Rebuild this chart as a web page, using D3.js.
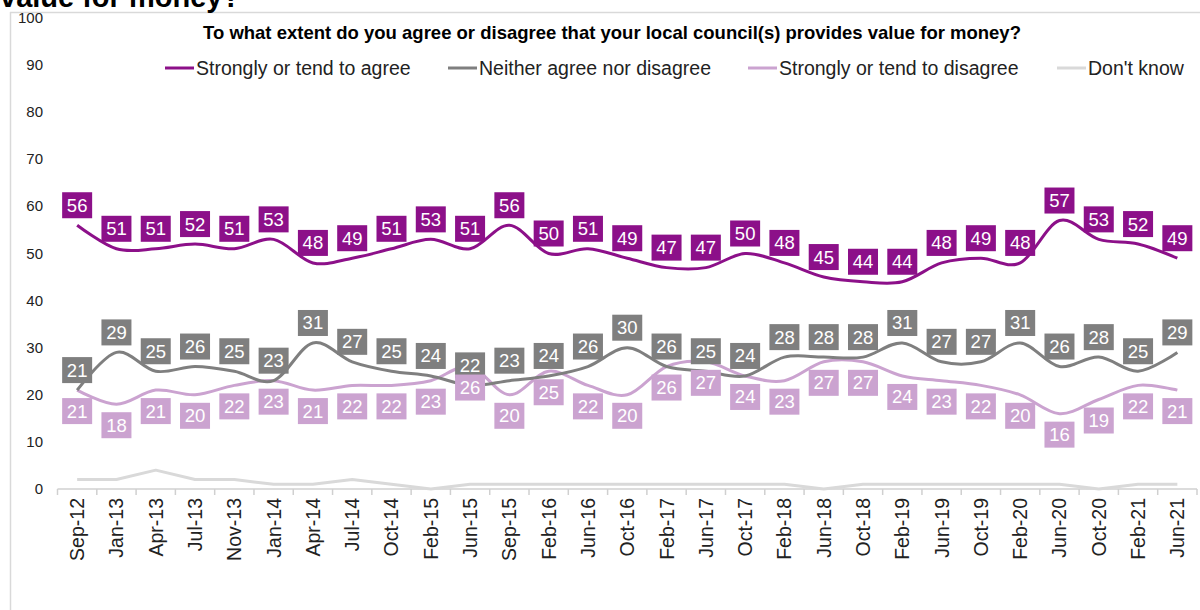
<!DOCTYPE html>
<html>
<head>
<meta charset="utf-8">
<script src="https://cdn.jsdelivr.net/npm/d3@7"></script>
<style>
  body { margin: 0; background: #fff; }
  svg { display: block; font-family: "Liberation Sans", Arial, sans-serif; }
</style>
</head>
<body>
<svg id="chart"></svg>
<script>
const waves = ["Sep-12", "Jan-13", "Apr-13", "Jul-13", "Nov-13", "Jan-14", "Apr-14", "Jul-14",
  "Oct-14", "Feb-15", "Jun-15", "Sep-15", "Feb-16", "Jun-16", "Oct-16", "Feb-17", "Jun-17",
  "Oct-17", "Feb-18", "Jun-18", "Oct-18", "Feb-19", "Jun-19", "Oct-19", "Feb-20", "Jun-20",
  "Oct-20", "Feb-21", "Jun-21"];

const agree = [56, 51, 51, 52, 51, 53, 48, 49, 51, 53, 51, 56, 50, 51, 49, 47, 47, 50, 48, 45,
  44, 44, 48, 49, 48, 57, 53, 52, 49];
const neither = [21, 29, 25, 26, 25, 23, 31, 27, 25, 24, 22, 23, 24, 26, 30, 26, 25, 24, 28, 28,
  28, 31, 27, 27, 31, 26, 28, 25, 29];
const disagree = [21, 18, 21, 20, 22, 23, 21, 22, 22, 23, 26, 20, 25, 22, 20, 26, 27, 24, 23, 27,
  27, 24, 23, 22, 20, 16, 19, 22, 21];
const dontKnow = [2, 2, 4, 2, 2, 1, 1, 2, 1, 0, 1, 1, 1, 1, 1, 1, 1, 1, 1, 0, 1, 1, 1, 1, 1, 1,
  0, 1, 1];

const yTicks = [0, 10, 20, 30, 40, 50, 60, 70, 80, 90, 100];

const series = [
  { name: "Strongly or tend to agree", values: agree, color: "#8c1089", smooth: true, label: "above" },
  { name: "Neither agree nor disagree", values: neither, color: "#7f7f7f", smooth: true, label: "above" },
  { name: "Strongly or tend to disagree", values: disagree, color: "#cba3d0", smooth: true, label: "below" },
  { name: "Don't know", values: dontKnow, color: "#d9d9d9", smooth: false, label: null }
];

document.addEventListener("DOMContentLoaded", function () {
  const width = 1200;
  const height = 610;

  const svg = d3.select("#chart").attr("width", width).attr("height", height);

  // frame of the slide-style chart box
  svg.append("line")
    .attr("x1", 10).attr("x2", width).attr("y1", 12.5).attr("y2", 12.5)
    .attr("stroke", "#d9d9d9").attr("stroke-width", 1.5);
  svg.append("line")
    .attr("x1", 10.5).attr("x2", 10.5).attr("y1", 12).attr("y2", height)
    .attr("stroke", "#d9d9d9").attr("stroke-width", 1.5);

  // heading cut off at the top
  svg.append("text")
    .attr("x", 0).attr("y", 7)
    .attr("font-size", 29).attr("font-weight", "bold")
    .attr("fill", "#000")
    .text("value for money?");

  svg.append("text")
    .attr("x", 612).attr("y", 39)
    .attr("text-anchor", "middle")
    .attr("font-size", 18.5).attr("font-weight", "bold")
    .attr("fill", "#000")
    .text("To what extent do you agree or disagree that your local council(s) provides value for money?");

  const x = d3.scaleBand().domain(waves).range([57.5, 1197]).padding(0);
  const y = d3.scaleLinear().domain([0, 100]).range([489, 18]);
  const cx = (i) => x(waves[i]) + x.bandwidth() / 2;

  // y axis labels only
  svg.append("g")
    .selectAll("text")
    .data(yTicks)
    .join("text")
    .attr("x", 43)
    .attr("y", (d) => y(d) + 5)
    .attr("text-anchor", "end")
    .attr("font-size", 15)
    .attr("fill", "#222")
    .text((d) => d);

  // x axis
  const xAxis = svg.append("g").attr("transform", "translate(0,489)");
  xAxis.append("line")
    .attr("x1", 57.5).attr("x2", 1197)
    .attr("stroke", "#d0d0d0").attr("stroke-width", 1.5);
  xAxis.selectAll("line.tick")
    .data(d3.range(waves.length + 1))
    .join("line")
    .attr("class", "tick")
    .attr("x1", (i) => 57.5 + i * x.step())
    .attr("x2", (i) => 57.5 + i * x.step())
    .attr("y1", 0).attr("y2", 6)
    .attr("stroke", "#d0d0d0").attr("stroke-width", 1.5);
  xAxis.selectAll("text")
    .data(waves)
    .join("text")
    .attr("transform", (d, i) => `translate(${cx(i) + 7},9) rotate(-90)`)
    .attr("text-anchor", "end")
    .attr("font-size", 19.5)
    .attr("fill", "#222")
    .text((d) => d);

  // lines
  const smoothLine = d3.line()
    .x((d, i) => cx(i))
    .y((d) => y(d))
    .curve(d3.curveCardinal.tension(0));
  const straightLine = d3.line()
    .x((d, i) => cx(i))
    .y((d) => y(d));

  const drawOrder = [3, 2, 1, 0];
  drawOrder.forEach((k) => {
    const s = series[k];
    svg.append("path")
      .datum(s.values)
      .attr("d", s.smooth ? smoothLine : straightLine)
      .attr("fill", "none")
      .attr("stroke", s.color)
      .attr("stroke-width", 3)
      .attr("stroke-linejoin", "round");
  });

  // data labels
  series.filter((s) => s.label).forEach((s) => {
    const g = svg.append("g");
    const offset = s.label === "above" ? -20 : 21;
    const lab = g.selectAll("g")
      .data(s.values)
      .join("g")
      .attr("transform", (d, i) => `translate(${cx(i)},${y(d) + offset})`);
    lab.append("rect")
      .attr("x", -15).attr("y", -13)
      .attr("width", 30).attr("height", 26)
      .attr("fill", s.color);
    lab.append("text")
      .attr("y", 6.5)
      .attr("text-anchor", "middle")
      .attr("font-size", 18.5)
      .attr("fill", "#fff")
      .text((d) => d);
  });

  // legend
  const legendX = [165, 448, 748, 1057];
  const legend = svg.append("g")
    .selectAll("g")
    .data(series)
    .join("g")
    .attr("transform", (d, i) => `translate(${legendX[i]},68)`);
  legend.append("line")
    .attr("x1", 0).attr("x2", 29)
    .attr("stroke", (d) => d.color)
    .attr("stroke-width", 3);
  legend.append("text")
    .attr("x", 31).attr("y", 7)
    .attr("font-size", 19.5)
    .attr("fill", "#222")
    .text((d) => d.name);
});
</script>
</body>
</html>
